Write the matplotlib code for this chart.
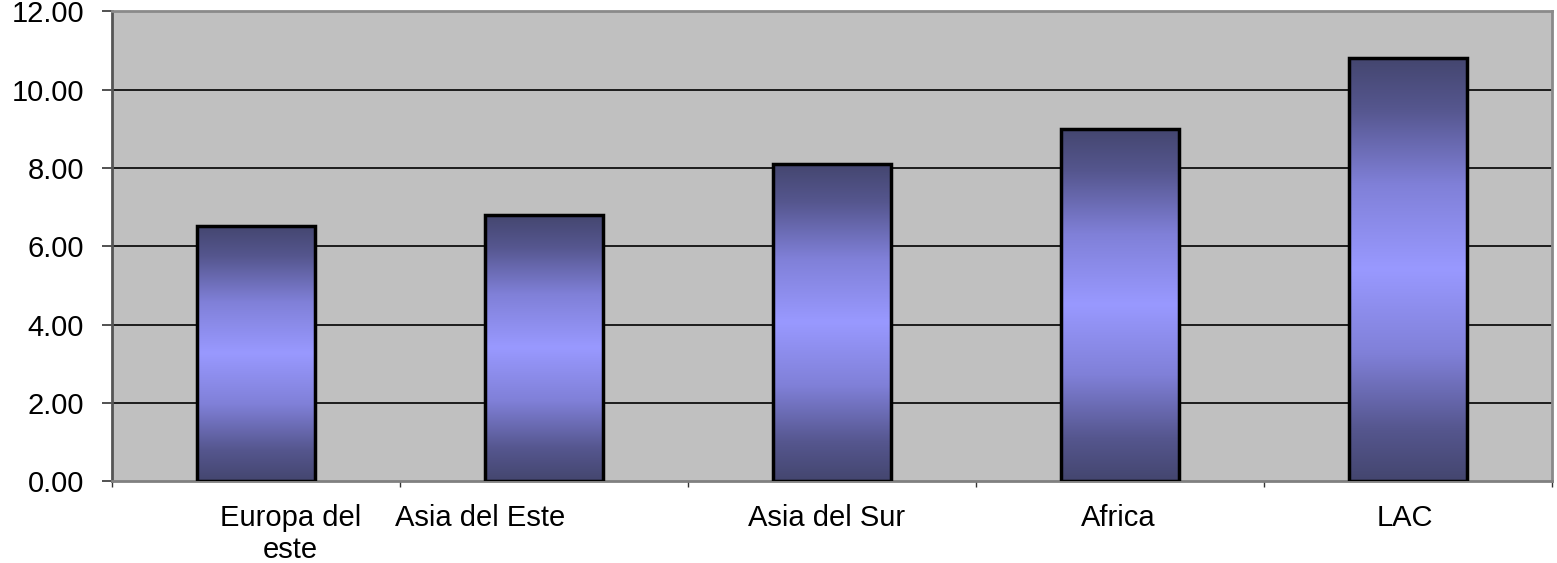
import numpy as np
import matplotlib
matplotlib.use("Agg")
import matplotlib.pyplot as plt
from matplotlib.colors import LinearSegmentedColormap
from matplotlib.ticker import FormatStrFormatter

# Data
regions = ["Europa del\neste", "Asia del Este", "Asia del Sur", "Africa", "LAC"]
values = [6.52, 6.80, 8.10, 9.01, 10.81]
yticks = [0, 2, 4, 6, 8, 10, 12]

# label nudges (points) like Excel's staggered category labels
label_dx = [25, -46, -4, -1, -2]

plt.rcParams['font.family'] = ['Liberation Sans', 'DejaVu Sans']

fig = plt.figure(figsize=(15.57, 5.63), dpi=100)
ax = fig.add_axes([0.0719, 0.1448, 0.9249, 0.8348])
ax.set_facecolor('#C0C0C0')

x = np.arange(len(regions))
width = 0.41
ax.set_xlim(-0.5, len(regions) - 0.5)
ax.set_ylim(0, 12)

# gridlines
for y in yticks[1:-1]:
    ax.axhline(y, color='black', lw=1.2, zorder=1)

# bars with a dark-light-dark vertical gradient
cmap = LinearSegmentedColormap.from_list('bar', [
    (0.0, '#44466F'), (0.12, '#55568E'), (0.3, '#8080D8'), (0.5, '#9999FF'),
    (0.7, '#8080D8'), (0.88, '#55568E'), (1.0, '#44466F')])
grad = np.linspace(0, 1, 256).reshape(-1, 1)
bars = ax.bar(x, values, width=width, facecolor='none', edgecolor='black', lw=2.5, zorder=3)
for b in bars:
    x0, y0 = b.get_x(), b.get_y()
    im = ax.imshow(grad, cmap=cmap, aspect='auto', origin='lower',
                   extent=[x0, x0 + b.get_width(), y0, y0 + b.get_height()], zorder=2)
    im.set_clip_path(b)

# axes styling
for s in ['top', 'right']:
    ax.spines[s].set_color('#8A8A8A')
    ax.spines[s].set_linewidth(2)
ax.spines['left'].set_color('#555555')
ax.spines['left'].set_linewidth(2)
ax.spines['bottom'].set_color('#808080')
ax.spines['bottom'].set_linewidth(2)

ax.set_yticks(yticks)
ax.yaxis.set_major_formatter(FormatStrFormatter('%.2f'))
ax.tick_params(axis='y', length=7, width=1.2, pad=13, labelsize=21, color='#333333')

ax.set_xticks(np.arange(len(regions) + 1) - 0.5)
ax.set_xticklabels([])
ax.tick_params(axis='x', length=4, width=1, color='#333333')

for i, lab in enumerate(regions):
    ax.annotate(lab, xy=(x[i], 0), xycoords='data', xytext=(label_dx[i], -16),
                textcoords='offset points', ha='center', va='top', fontsize=21,
                linespacing=1.2, annotation_clip=False)

fig.savefig('out.png', dpi=100)
